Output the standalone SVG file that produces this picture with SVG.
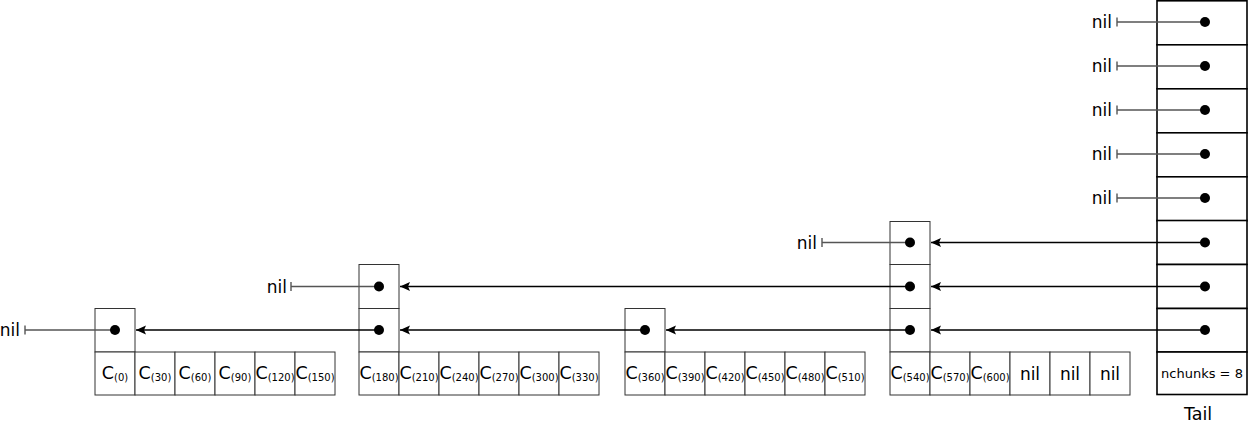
<svg xmlns="http://www.w3.org/2000/svg" width="1248" height="422" viewBox="0 0 1248 422">
<style>
text{font-family:"DejaVu Sans","Liberation Sans",sans-serif;fill:#000}
.box{fill:#fff;stroke:#333;stroke-width:1}
.tbox{fill:#fff;stroke:#000;stroke-width:1.6}
.nilt{font-size:17px;text-anchor:end}
.nilc{font-size:17px;text-anchor:middle}
.c{font-size:17.5px;text-anchor:middle}
.s{font-size:10px}
.nl{stroke:#555;stroke-width:1.4;fill:none}
.ar{stroke:#000;stroke-width:1.3;fill:none;marker-end:url(#ah)}
.dot{fill:#000}
</style>
<defs>
<marker id="ah" markerUnits="userSpaceOnUse" markerWidth="11" markerHeight="10" refX="10" refY="4.5" orient="auto">
<path d="M0,0 L10,4.5 L0,9 L2,4.5 z" fill="#000"/>
</marker>
</defs>

<g id="tail">
<rect class="tbox" x="1157" y="0.8" width="90" height="44"/>
<rect class="tbox" x="1157" y="44.8" width="90" height="44"/>
<rect class="tbox" x="1157" y="88.8" width="90" height="44"/>
<rect class="tbox" x="1157" y="132.8" width="90" height="44"/>
<rect class="tbox" x="1157" y="176.8" width="90" height="44"/>
<rect class="tbox" x="1157" y="220.5" width="90" height="44"/>
<rect class="tbox" x="1157" y="264.5" width="90" height="44"/>
<rect class="tbox" x="1157" y="308.5" width="90" height="43.5"/>
<rect class="tbox" x="1157" y="352" width="90" height="42.5"/>
<text x="1202" y="378" style="font-size:13px;text-anchor:middle">nchunks = 8</text>
<text x="1198" y="420" style="font-size:17.5px;text-anchor:middle">Tail</text>
</g>

<g id="block1">
<rect class="box" x="95" y="308.5" width="40" height="43.5"/>
<rect class="box" x="95" y="352" width="40" height="43"/>
<rect class="box" x="135" y="352" width="40" height="43"/>
<rect class="box" x="175" y="352" width="40" height="43"/>
<rect class="box" x="215" y="352" width="40" height="43"/>
<rect class="box" x="255" y="352" width="40" height="43"/>
<rect class="box" x="295" y="352" width="40" height="43"/>
<text class="c" x="115" y="379">C<tspan class="s" dy="1.5">(0)</tspan></text>
<text class="c" x="155" y="379">C<tspan class="s" dy="1.5">(30)</tspan></text>
<text class="c" x="195" y="379">C<tspan class="s" dy="1.5">(60)</tspan></text>
<text class="c" x="235" y="379">C<tspan class="s" dy="1.5">(90)</tspan></text>
<text class="c" x="275" y="379">C<tspan class="s" dy="1.5">(120)</tspan></text>
<text class="c" x="315" y="379">C<tspan class="s" dy="1.5">(150)</tspan></text>
</g>

<g id="block2">
<rect class="box" x="359" y="264.5" width="40" height="44"/>
<rect class="box" x="359" y="308.5" width="40" height="43.5"/>
<rect class="box" x="359" y="352" width="40" height="43"/>
<rect class="box" x="399" y="352" width="40" height="43"/>
<rect class="box" x="439" y="352" width="40" height="43"/>
<rect class="box" x="479" y="352" width="40" height="43"/>
<rect class="box" x="519" y="352" width="40" height="43"/>
<rect class="box" x="559" y="352" width="40" height="43"/>
<text class="c" x="379" y="379">C<tspan class="s" dy="1.5">(180)</tspan></text>
<text class="c" x="419" y="379">C<tspan class="s" dy="1.5">(210)</tspan></text>
<text class="c" x="459" y="379">C<tspan class="s" dy="1.5">(240)</tspan></text>
<text class="c" x="499" y="379">C<tspan class="s" dy="1.5">(270)</tspan></text>
<text class="c" x="539" y="379">C<tspan class="s" dy="1.5">(300)</tspan></text>
<text class="c" x="579" y="379">C<tspan class="s" dy="1.5">(330)</tspan></text>
</g>

<g id="block3">
<rect class="box" x="625" y="308.5" width="40" height="43.5"/>
<rect class="box" x="625" y="352" width="40" height="43"/>
<rect class="box" x="665" y="352" width="40" height="43"/>
<rect class="box" x="705" y="352" width="40" height="43"/>
<rect class="box" x="745" y="352" width="40" height="43"/>
<rect class="box" x="785" y="352" width="40" height="43"/>
<rect class="box" x="825" y="352" width="40" height="43"/>
<text class="c" x="645" y="379">C<tspan class="s" dy="1.5">(360)</tspan></text>
<text class="c" x="685" y="379">C<tspan class="s" dy="1.5">(390)</tspan></text>
<text class="c" x="725" y="379">C<tspan class="s" dy="1.5">(420)</tspan></text>
<text class="c" x="765" y="379">C<tspan class="s" dy="1.5">(450)</tspan></text>
<text class="c" x="805" y="379">C<tspan class="s" dy="1.5">(480)</tspan></text>
<text class="c" x="845" y="379">C<tspan class="s" dy="1.5">(510)</tspan></text>
</g>

<g id="block4">
<rect class="box" x="890" y="221.5" width="40" height="43"/>
<rect class="box" x="890" y="264.5" width="40" height="44"/>
<rect class="box" x="890" y="308.5" width="40" height="43.5"/>
<rect class="box" x="890" y="352" width="40" height="43"/>
<rect class="box" x="930" y="352" width="40" height="43"/>
<rect class="box" x="970" y="352" width="40" height="43"/>
<rect class="box" x="1010" y="352" width="40" height="43"/>
<rect class="box" x="1050" y="352" width="40" height="43"/>
<rect class="box" x="1090" y="352" width="40" height="43"/>
<text class="c" x="910" y="379">C<tspan class="s" dy="1.5">(540)</tspan></text>
<text class="c" x="950" y="379">C<tspan class="s" dy="1.5">(570)</tspan></text>
<text class="c" x="990" y="379">C<tspan class="s" dy="1.5">(600)</tspan></text>
<text class="nilc" x="1030" y="380">nil</text>
<text class="nilc" x="1070" y="380">nil</text>
<text class="nilc" x="1110" y="380">nil</text>
</g>

<g id="connectors">
<text class="nilt" x="1112" y="28">nil</text>
<text class="nilt" x="1112" y="72">nil</text>
<text class="nilt" x="1112" y="116">nil</text>
<text class="nilt" x="1112" y="160">nil</text>
<text class="nilt" x="1112" y="204">nil</text>
<path class="nl" d="M1117,17.5 V26.5 M1117,22 H1205"/>
<path class="nl" d="M1117,61.5 V70.5 M1117,66 H1205"/>
<path class="nl" d="M1117,105.5 V114.5 M1117,110 H1205"/>
<path class="nl" d="M1117,149.5 V158.5 M1117,154 H1205"/>
<path class="nl" d="M1117,193.5 V202.5 M1117,198 H1205"/>
<text class="nilt" x="817" y="248.5">nil</text>
<path class="nl" d="M822,238 V247 M822,242.5 H910"/>
<text class="nilt" x="287" y="292.5">nil</text>
<path class="nl" d="M291,282 V291 M291,286.5 H379"/>
<text class="nilt" x="20" y="336">nil</text>
<path class="nl" d="M25,325.5 V334.5 M25,330 H115"/>

<line class="ar" x1="1205" y1="242.5" x2="931" y2="242.5"/>
<line class="ar" x1="1205" y1="286.5" x2="931" y2="286.5"/>
<line class="ar" x1="1205" y1="330" x2="931" y2="330"/>
<line class="ar" x1="910" y1="286.5" x2="400" y2="286.5"/>
<line class="ar" x1="910" y1="330" x2="666" y2="330"/>
<line class="ar" x1="645" y1="330" x2="400" y2="330"/>
<line class="ar" x1="379" y1="330" x2="136" y2="330"/>

<circle class="dot" cx="1205" cy="22" r="5"/>
<circle class="dot" cx="1205" cy="66" r="5"/>
<circle class="dot" cx="1205" cy="110" r="5"/>
<circle class="dot" cx="1205" cy="154" r="5"/>
<circle class="dot" cx="1205" cy="198" r="5"/>
<circle class="dot" cx="1205" cy="242.5" r="5"/>
<circle class="dot" cx="1205" cy="286.5" r="5"/>
<circle class="dot" cx="1205" cy="330" r="5"/>
<circle class="dot" cx="910" cy="242.5" r="5"/>
<circle class="dot" cx="910" cy="286.5" r="5"/>
<circle class="dot" cx="910" cy="330" r="5"/>
<circle class="dot" cx="645" cy="330" r="5"/>
<circle class="dot" cx="379" cy="286.5" r="5"/>
<circle class="dot" cx="379" cy="330" r="5"/>
<circle class="dot" cx="115" cy="330" r="5"/>
</g>
</svg>
